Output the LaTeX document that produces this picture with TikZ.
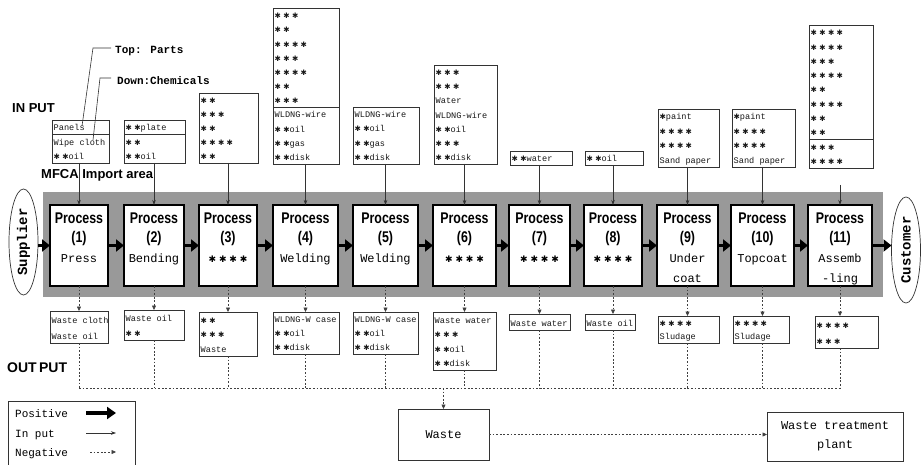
\documentclass[tikz,border=0pt]{standalone}
\usepackage{fontspec}
\usepackage{graphicx}
\setmainfont{Liberation Mono}
\newfontfamily\sansf{Liberation Sans}
\newfontfamily\symf{DejaVu Sans}
\usetikzlibrary{arrows.meta,shapes.geometric}
\newcommand\sr[1]{{\symf\fontsize{7.5}{7.5}\selectfont #1}}
\newcommand\sone{\sr{✱}}
\newcommand\stwo{\sr{✱ ✱}}
\newcommand\sthree{\sr{✱ ✱ ✱}}
\newcommand\sfour{\sr{✱ ✱ ✱ ✱}}
\newcommand\pst{{\symf\fontsize{9}{9}\selectfont ✱ ✱ ✱ ✱}}
\newcommand\pr[1]{\scalebox{0.8}[1]{\sansf\bfseries\fontsize{15.5}{15.5}\selectfont #1}}
\tikzset{
  tb/.style={draw=black!80, line width=0.7pt, fill=white, inner sep=0pt, outer sep=0pt},
  tbl/.style={draw=black!80, line width=0.7pt},
  tt/.style={font=\fontsize{8.6}{10}\selectfont, inner sep=0pt, anchor=base west, text=black!90},
  pbox/.style={draw=black, line width=1.5pt, fill=white, inner sep=0pt, outer sep=0pt},
  ptxt/.style={anchor=base, inner sep=0pt},
  pmono/.style={anchor=base, inner sep=0pt, font=\fontsize{12}{12}\selectfont},
  band/.style={fill=black!40, draw=none, inner sep=0pt, outer sep=0pt},
  ell/.style={ellipse, draw=black!80, line width=0.7pt, fill=white, inner sep=0pt, outer sep=0pt, font=\bfseries\fontsize{14}{14}\selectfont},
  posarr/.style={line width=3.5pt, draw=black, -{Triangle[length=8pt,width=12pt]}},
  inarr/.style={line width=0.6pt, draw=black!80, -{Stealth[length=5pt,width=3.5pt]}},
  neg/.style={line width=0.6pt, draw=black!75, dash pattern=on 1.8pt off 1.8pt},
  negarr/.style={neg, -{Triangle[length=4.5pt,width=4pt]}},
  lead/.style={line width=0.6pt, draw=black!80},
  biglbl/.style={anchor=west, inner sep=0pt, font=\sansf\bfseries\fontsize{13}{13}\selectfont},
  callout/.style={anchor=west, inner sep=0pt, font=\bfseries\fontsize{11}{11}\selectfont},
  lt/.style={anchor=base west, inner sep=0pt, font=\fontsize{11}{11}\selectfont},
  wbox/.style={draw=black!80, line width=0.8pt, fill=white, inner sep=0pt, outer sep=0pt, font=\fontsize{12}{19}\selectfont, align=center}
}
% name, x1, y1, x2, y2, rows, split-after, lines
\newcommand\tbox[8]{%
  \pgfmathsetmacro\rs{(#5-#3)/#6}%
  \node[tb, minimum width={#4-#2}, minimum height={#5-#3}] (#1) at ({(#2+#4)/2},{(#3+#5)/2}) {};%
  \ifnum#7>0 \draw[tbl] ({#2},{#3+\rs*#7}) -- ({#4},{#3+\rs*#7});\fi
  \foreach \tline [count=\i] in {#8} {\node[tt] (#1-\i) at ({#2+1.5},{#3+\rs*\i-3.5}) {\tline};}%
}
% name, x1, x2, number, third line
\newcommand\procbox[5]{%
  \node[pbox, minimum width={#3-#2}, minimum height=81] (#1) at ({(#2+#3)/2},245.5) {};%
  \node[ptxt] (#1-a) at ({(#2+#3)/2},224) {\pr{Process}};%
  \node[ptxt] (#1-b) at ({(#2+#3)/2},243) {\pr{(#4)}};%
  \node[pmono] (#1-c) at ({(#2+#3)/2},262) {#5};%
}
\begin{document}
\begin{tikzpicture}[x=1pt,y=-1pt]
\useasboundingbox (0,0) rectangle (921,465);
\fill[white] (0,0) rectangle (921,465);

% gray MFCA band
\node[band, minimum width=840, minimum height=105] (band) at (463,244.5) {};

% labels
\node[biglbl] (inlbl) at (12,108) {IN PUT};
\node[biglbl] (mfca) at (41,175) {MFCA Import area};
\node[biglbl, font=\sansf\bfseries\fontsize{14}{14}\selectfont] (outlbl) at (7,368) {OUT\,PUT};
\node[callout] (toplbl) at (115,51) {Top: Parts};
\node[callout] (downlbl) at (117,81) {Down:Chemicals};

% process boxes
\procbox{p1}{50}{108}{1}{Press}
\procbox{p2}{124}{184}{2}{Bending}
\procbox{p3}{199}{257}{3}{\pst}
\procbox{p4}{273}{338}{4}{Welding}
\procbox{p5}{353}{418}{5}{Welding}
\procbox{p6}{433}{496}{6}{\pst}
\procbox{p7}{509}{570}{7}{\pst}
\procbox{p8}{584}{642}{8}{\pst}
\procbox{p9}{657}{718}{9}{Under}
\procbox{p10}{731}{794}{10}{Topcoat}
\procbox{p11}{808}{872}{11}{Assemb}
\node[pmono] (p9-d) at (687.5,282) {coat};
\node[pmono] (p11-d) at (840,282) {-ling};

% supplier / customer
\node[ell, minimum width=29, minimum height=106] (sup) at (23.5,242) {\rotatebox{90}{Supplier}};
\node[ell, minimum width=29, minimum height=106] (cus) at (906,250) {\rotatebox{90}{Customer}};

% positive flow
\draw[posarr] (sup.east |- p1.west) -- (p1.west);
\foreach \a/\b in {p1/p2,p2/p3,p3/p4,p4/p5,p5/p6,p6/p7,p7/p8,p8/p9,p9/p10,p10/p11}
  \draw[posarr] (\a.east) -- (\b.west);
\draw[posarr] (p11.east) -- (cus.west |- p11.east);

% input boxes
\tbox{in1}{52}{120}{109}{163}{3}{1}{Panels,Wipe cloth,\stwo oil}
\tbox{in2}{124}{120}{185}{163}{3}{1}{\stwo plate,\stwo,\stwo oil}
\tbox{in3}{199}{93}{258}{163}{5}{0}{\stwo,\sthree,\stwo,\sfour,\stwo}
\tbox{in4}{273}{8}{339}{164}{11}{7}{\sthree,\stwo,\sfour,\sthree,\sfour,\stwo,\sthree,WLDNG-wire,\stwo oil,\stwo gas,\stwo disk}
\tbox{in5}{353}{107}{419}{164}{4}{0}{WLDNG-wire,\stwo oil,\stwo gas,\stwo disk}
\tbox{in6}{434}{65}{497}{164}{7}{0}{\sthree,\sthree,Water,WLDNG-wire,\stwo oil,\sthree,\stwo disk}
\tbox{in7}{510}{151}{572}{165}{1}{0}{\stwo water}
\tbox{in8}{585}{151}{643}{165}{1}{0}{\stwo oil}
\tbox{in9}{658}{109}{719}{167}{4}{0}{\sone paint,\sfour,\sfour,Sand paper}
\tbox{in10}{732}{109}{795}{167}{4}{0}{\sone paint,\sfour,\sfour,Sand paper}
\tbox{in11}{809}{25}{873}{168}{10}{8}{\sfour,\sfour,\sthree,\sfour,\stwo,\sfour,\stwo,\stwo,\sthree,\sfour}

% input arrows
\foreach \k in {1,...,10}
  \draw[inarr] (p\k.north |- in\k.south) -- (p\k.north);
\coordinate (c11) at (840,185);
\draw[inarr] (c11) -- (p11.north);

% leader lines
\coordinate (tpA) at (82,126);
\coordinate (dnA) at (93,140);
\draw[lead] ([xshift=-4,yshift=3]toplbl.west) -- ++(-18,0) -- (tpA);
\draw[lead] ([xshift=-6,yshift=3]downlbl.west) -- ++(-11,0) -- (dnA);

% output boxes
\tbox{o1}{50}{311}{108}{343}{2}{0}{Waste cloth,Waste oil}
\tbox{o2}{124}{310}{184}{340}{2}{0}{Waste oil,\stwo}
\tbox{o3}{199}{312}{257}{356}{3}{0}{\stwo,\sthree,Waste}
\tbox{o4}{273}{312}{339}{354}{3}{0}{WLDNG-W case,\stwo oil,\stwo disk}
\tbox{o5}{353}{312}{418}{354}{3}{0}{WLDNG-W case,\stwo oil,\stwo disk}
\tbox{o6}{433}{312}{496}{370}{4}{0}{Waste water,\sthree,\stwo oil,\stwo disk}
\tbox{o7}{509}{314}{570}{330}{1}{0}{Waste water}
\tbox{o8}{585}{314}{635}{330}{1}{0}{Waste oil}
\tbox{o9}{658}{316}{719}{343}{2}{0}{\sfour,Sludage}
\tbox{o10}{733}{316}{789}{343}{2}{0}{\sfour,Sludage}
\tbox{o11}{815}{316}{878}{348}{2}{0}{\sfour,\sthree}

% negative flows
\coordinate (hl) at (0,388);
\foreach \k in {1,...,11}{
  \draw[negarr] (p\k.south) -- (p\k.south |- o\k.north);
  \draw[neg] (p\k.south |- o\k.south) -- (p\k.south |- hl);
}
\draw[neg] (p1.south |- hl) -- (p11.south |- hl);

\node[wbox, minimum width=91, minimum height=51] (waste) at (443.5,434.5) {Waste};
\node[wbox, minimum width=136, minimum height=49] (wtp) at (835,436.5) {Waste treatment\\plant};
\draw[negarr] (waste.north |- hl) -- (waste.north);
\draw[negarr] (waste.east) -- (wtp.west |- waste.east);

% legend
\draw[tbl] (8,470) -- (8,401) -- (135,401) -- (135,470);
\node[lt] (lgp) at (15,417) {Positive};
\node[lt] (lgi) at (15,437) {In put};
\node[lt] (lgn) at (15,456) {Negative};
\coordinate (lgp1) at (86,413); \coordinate (lgp2) at (116,413);
\coordinate (lgi1) at (86,433); \coordinate (lgi2) at (116,433);
\coordinate (lgn1) at (90,452); \coordinate (lgn2) at (116,452);
\draw[posarr, line width=4.5pt, -{Triangle[length=9pt,width=12pt]}] (lgp1) -- (lgp2);
\draw[inarr] (lgi1) -- (lgi2);
\draw[negarr] (lgn1) -- (lgn2);
\end{tikzpicture}
\end{document}
